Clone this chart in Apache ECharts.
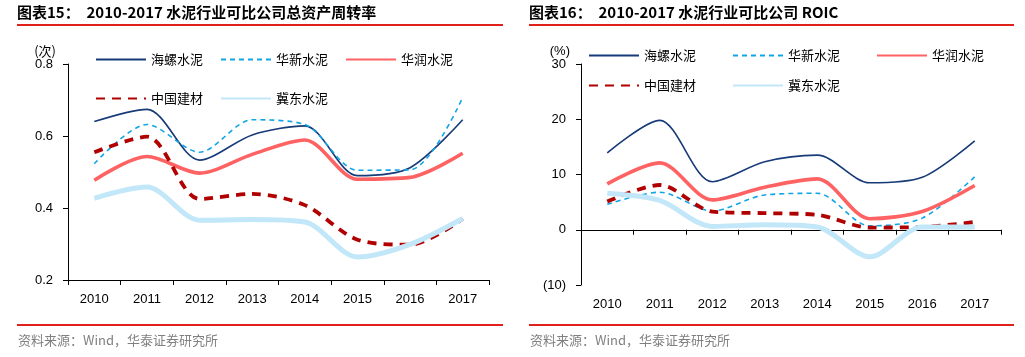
<!DOCTYPE html>
<html>
<head>
<meta charset="utf-8">
<script src="https://cdn.jsdelivr.net/npm/echarts@6/dist/echarts.min.js"></script>
<style>
html,body{margin:0;padding:0;background:#fff;}
#main{width:1025px;height:357px;}
</style>
</head>
<body>
<div id="main"></div>
<script>
// ---- data ----
const years = ['2010','2011','2012','2013','2014','2015','2016','2017'];
const seriesNames = ['海螺水泥','华新水泥','华润水泥','中国建材','冀东水泥'];

// 总资产周转率 (次)
const hlTurnover = [0.640, 0.674, 0.533, 0.603, 0.628, 0.490, 0.512, 0.645];
const hxTurnover = [0.523, 0.632, 0.555, 0.645, 0.632, 0.505, 0.506, 0.707];
const hrTurnover = [0.477, 0.543, 0.497, 0.549, 0.589, 0.480, 0.485, 0.552];
const zjTurnover = [0.555, 0.598, 0.425, 0.439, 0.408, 0.312, 0.298, 0.370];
const jdTurnover = [0.427, 0.458, 0.366, 0.368, 0.361, 0.264, 0.299, 0.371];

// ROIC (%)
const hlRoic = [13.9, 19.8, 8.7, 12.3, 13.5, 8.5, 9.5, 16.1];
const hxRoic = [4.6, 6.8, 3.4, 6.3, 6.6, 0.7, 2.1, 9.6];
const hrRoic = [8.3, 12.1, 5.4, 7.7, 9.2, 2.0, 3.3, 8.0];
const zjRoic = [5.1, 8.1, 3.3, 3.0, 2.7, 0.4, 0.5, 1.4];
const jdRoic = [6.6, 5.3, 0.6, 0.9, 0.5, -4.9, 0.5, 0.5];

const leftTicks = [0.2, 0.4, 0.6, 0.8];
const rightTicks = [-10, 0, 10, 20, 30];

const title1 = '图表15：  2010-2017 水泥行业可比公司总资产周转率';
const title2 = '图表16：  2010-2017 水泥行业可比公司 ROIC';
const sourceText = '资料来源：Wind，华泰证券研究所';

// ---- styles ----
const styles = [
  {color:'#173a78', width:1.6, type:'solid'},
  {color:'#12a5e6', width:1.6, type:[5,4]},
  {color:'#ff6262', width:3.6, type:'solid'},
  {color:'#b00000', width:3.8, type:[9,7]},
  {color:'#c2e7f8', width:5, type:'solid'}
];
const leftData = [hlTurnover, hxTurnover, hrTurnover, zjTurnover, jdTurnover];
const rightData = [hlRoic, hxRoic, hrRoic, zjRoic, jdRoic];

const axisFont = {fontFamily:'"Liberation Sans", Arial, sans-serif', fontSize:13, color:'#000'};
const cjkFont = '"Noto Sans CJK SC", "Liberation Sans", sans-serif';

function makeSeries(dataList, idx){
  return dataList.map((d,i)=>({
    name: seriesNames[i],
    type:'line',
    xAxisIndex: idx, yAxisIndex: idx,
    data: d,
    smooth: 0.3,
    symbol:'none',
    lineStyle:{color:styles[i].color, width:styles[i].width, type:styles[i].type},
    itemStyle:{color:styles[i].color},
    z: 2 + i
  }));
}

const legendText = {fontFamily:cjkFont, fontSize:13, color:'#000'};
function legend(names, left, top, gap){
  return {data:names, left:left, top:top, itemWidth:50, itemHeight:14, itemGap:gap,
          itemStyle:{opacity:0}, lineStyle:{opacity:1},
          textStyle:legendText, selectedMode:false, padding:0};
}

const chart = echarts.init(document.getElementById('main'), null, {renderer:'canvas'});
chart.setOption({
  animation:false,
  backgroundColor:'#fff',
  title:[
    {text:title1, left:17, top:5, padding:0,
     textStyle:{fontFamily:cjkFont, fontSize:15, fontWeight:'bold', color:'#000'}},
    {text:title2, left:529, top:5, padding:0,
     textStyle:{fontFamily:cjkFont, fontSize:15, fontWeight:'bold', color:'#000'}}
  ],
  graphic:[
    {type:'rect', shape:{x:17, y:24, width:486, height:2}, style:{fill:'#e0221b'}},
    {type:'rect', shape:{x:529, y:24, width:485, height:2}, style:{fill:'#e0221b'}},
    {type:'rect', shape:{x:17, y:324, width:486, height:2}, style:{fill:'#e0221b'}},
    {type:'rect', shape:{x:529, y:324, width:485, height:2}, style:{fill:'#e0221b'}},
    {type:'text', left:18, top:334, style:{text:sourceText, fill:'#808080', font:'13px ' + cjkFont}},
    {type:'text', left:530, top:334, style:{text:sourceText, fill:'#808080', font:'13px ' + cjkFont}}
  ],
  legend:[
    legend(seriesNames.slice(0,3), 95, 53, 17),
    legend(seriesNames.slice(3), 95, 92, 17),
    legend(seriesNames.slice(0,3), 588, 49, 36),
    legend(seriesNames.slice(3), 588, 79, 36)
  ],
  grid:[
    {left:68, top:64, width:421, height:216},
    {left:581, top:64, width:420, height:221}
  ],
  xAxis:[
    {type:'category', gridIndex:0, data:years, boundaryGap:true,
     axisLine:{lineStyle:{color:'#000', width:1}},
     axisTick:{show:true, length:5, lineStyle:{color:'#000'}},
     axisLabel:{...axisFont, margin:13},
     splitLine:{show:false}},
    {type:'category', gridIndex:1, data:years, boundaryGap:true,
     axisLine:{onZero:true, lineStyle:{color:'#000', width:1}},
     axisTick:{show:true, length:5, lineStyle:{color:'#000'}},
     axisLabel:{...axisFont, margin:13},
     splitLine:{show:false}}
  ],
  yAxis:[
    {type:'value', gridIndex:0, min:leftTicks[0], max:leftTicks[leftTicks.length-1], interval:0.2,
     name:'(次)', nameLocation:'end', nameGap:1,
     nameTextStyle:{fontFamily:cjkFont, fontSize:13, color:'#000', align:'right', padding:[0,12,0,0]},
     axisLine:{show:true, lineStyle:{color:'#000', width:1}},
     axisTick:{show:true, length:5, lineStyle:{color:'#000'}},
     axisLabel:{...axisFont, margin:15, formatter:v=>v.toFixed(1)},
     splitLine:{show:false}},
    {type:'value', gridIndex:1, min:rightTicks[0], max:rightTicks[rightTicks.length-1], interval:10,
     name:'(%)', nameLocation:'end', nameGap:1,
     nameTextStyle:{fontFamily:'"Liberation Sans", Arial, sans-serif', fontSize:13, color:'#000', align:'right', padding:[0,11,0,0]},
     axisLine:{show:true, onZero:false, lineStyle:{color:'#000', width:1}},
     axisTick:{show:true, length:5, lineStyle:{color:'#000'}},
     axisLabel:{...axisFont, margin:15, formatter:v=> v<0 ? '(' + (-v) + ')' : String(v)},
     splitLine:{show:false}}
  ],
  series: makeSeries(leftData, 0).concat(makeSeries(rightData, 1))
});
</script>
</body>
</html>
